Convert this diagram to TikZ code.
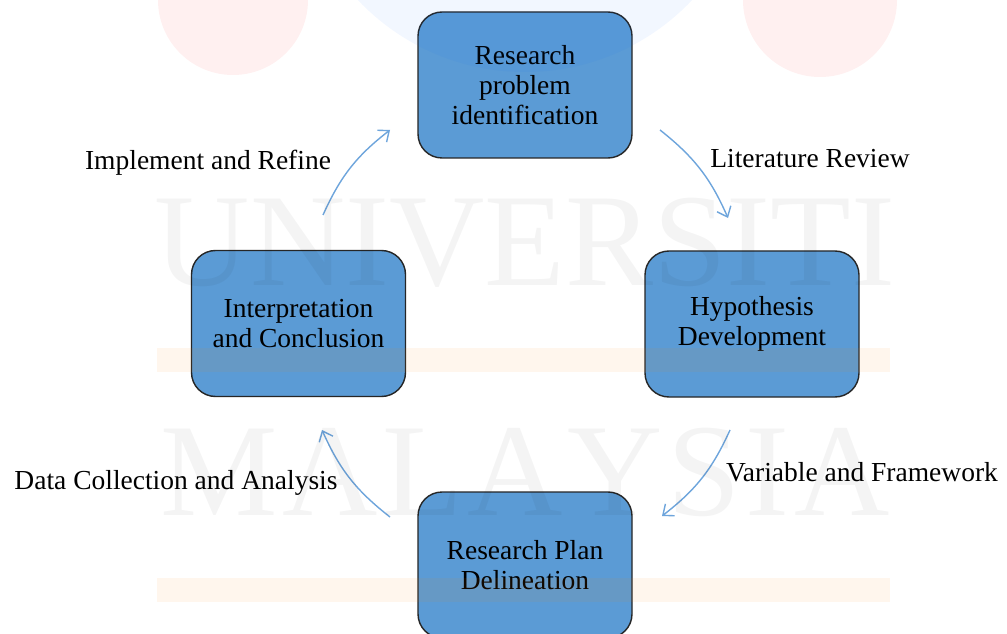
\documentclass[tikz,border=0pt]{standalone}
\usepackage{fontspec}
\setmainfont{Liberation Serif}
\usetikzlibrary{arrows.meta}
\definecolor{boxblue}{RGB}{91,155,213}
\definecolor{arrowblue}{RGB}{110,165,220}
\begin{document}
\begin{tikzpicture}[x=1pt,y=1pt,
  stage/.style={draw=black!85, line width=1.4pt, fill=boxblue, rounded corners=24pt,
    minimum width=214pt, minimum height=146pt, align=center, inner sep=0pt,
    font=\fontsize{27.5}{30}\selectfont},
  lbl/.style={font=\fontsize{27.5}{30}\selectfont, inner sep=0pt},
  flow/.style={draw=arrowblue, line width=1.4pt, -{Straight Barb[length=9pt,width=15pt]}},
  wm/.style={opacity=0.045}]
\useasboundingbox (0,0) rectangle (1007,633);
\fill[white] (0,0) rectangle (1007,633);

% stages
\node[stage] (rp) at (525,548) {Research\\problem\\identification};
\node[stage] (hd) at (752,309) {Hypothesis\\Development};
\node[stage] (pl) at (525,68) {Research Plan\\Delineation};
\node[stage] (ic) at (298.5,309.5) {Interpretation\\and Conclusion};

% arrow end points
\coordinate (a1s) at (323,418); \coordinate (a1e) at (390,503);
\coordinate (a2s) at (660,503); \coordinate (a2e) at (728,415);
\coordinate (a3s) at (730,203); \coordinate (a3e) at (662,117);
\coordinate (a4s) at (390,116); \coordinate (a4e) at (322,203);

\draw[flow] (a1s) to[bend left=14] (a1e);
\draw[flow] (a2s) to[bend left=14] (a2e);
\draw[flow] (a3s) to[bend left=14] (a3e);
\draw[flow] (a4s) to[bend left=14] (a4e);

% labels
\node[lbl] (l1) at (208,470) {Implement and Refine};
\node[lbl] (l2) at (810,474) {Literature Review};
\node[lbl] (l3) at (862,161) {Variable and Framework};
\node[lbl] (l4) at (176,150) {Data Collection and Analysis};

% watermark
\fill[red, opacity=0.06] (233,633) circle (75);
\fill[red, opacity=0.06] (820,633) circle (77);
\fill[blue!60!cyan, opacity=0.05] (525,791) circle (230);
\fill[orange, opacity=0.07] (157,261) rectangle (890,285);
\fill[orange, opacity=0.07] (157,31) rectangle (890,55);
\node[wm, anchor=base, inner sep=0pt, font=\fontsize{132}{132}\selectfont] (w1) at (525,348)
  {\makebox[730pt]{U\hfill N\hfill I\hfill V\hfill E\hfill R\hfill S\hfill I\hfill T\hfill I}};
\node[wm, anchor=base, inner sep=0pt, font=\fontsize{132}{132}\selectfont] (w2) at (525,118)
  {\makebox[730pt]{M\hfill A\hfill L\hfill A\hfill Y\hfill S\hfill I\hfill A}};
\end{tikzpicture}
\end{document}
